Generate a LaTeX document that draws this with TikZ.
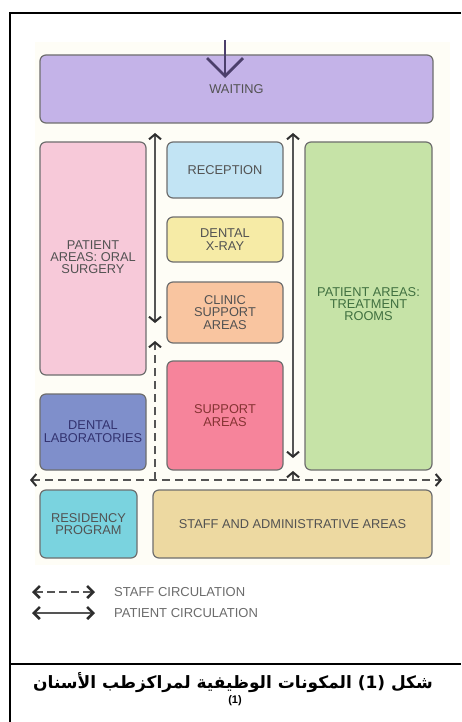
\documentclass[tikz,border=0pt]{standalone}
\usepackage{fontspec}
\setmainfont{Liberation Sans}
\newfontfamily\arabicfont[Script=Arabic]{DejaVu Sans}
\TeXXeTstate=1
\usetikzlibrary{arrows.meta}
\definecolor{bordergray}{HTML}{6E6E6E}
\definecolor{linegray}{HTML}{555555}
\definecolor{tipdark}{HTML}{2E2E2E}
\definecolor{cwait}{HTML}{C4B3E8}
\definecolor{coral}{HTML}{F7C9D9}
\definecolor{crecep}{HTML}{C2E4F4}
\definecolor{cxray}{HTML}{F6EBA6}
\definecolor{cclinic}{HTML}{F9C5A0}
\definecolor{csupport}{HTML}{F6849B}
\definecolor{cgreen}{HTML}{C6E3A7}
\definecolor{clabs}{HTML}{7F8FCB}
\definecolor{cres}{HTML}{7AD3DF}
\definecolor{cstaff}{HTML}{EDD9A1}
\definecolor{cbg}{HTML}{FEFDF6}
\definecolor{centry}{HTML}{4B3F6B}
\tikzset{
  box/.style={draw=bordergray, line width=1.2pt, rounded corners=6pt, align=center,
    inner sep=0pt, font=\fontsize{12.8}{12.8}\selectfont, text=black!68},
  patientline/.style={draw=linegray, line width=1.5pt, {Straight Barb[length=5pt,width=12pt,line width=2pt,color=tipdark]}-{Straight Barb[length=5pt,width=12pt,line width=2pt,color=tipdark]}},
  staffline/.style={draw=linegray, line width=1.6pt, dash pattern=on 8pt off 5pt},
  legendtxt/.style={anchor=west, inner sep=0pt, font=\fontsize{13}{13}\selectfont, text=black!58},
  frameline/.style={line width=2pt, draw=black}
}
\begin{document}
\begin{tikzpicture}[x=1pt,y=-1pt]
\useasboundingbox (0,0) rectangle (461,722);
% frame
\draw[frameline] (461,13) -- (10,13) -- (10,722);
\draw[frameline] (10,664) -- (461,664);
% background
\fill[cbg] (35,42) rectangle (450,565);
% boxes
\node[box, fill=cwait, minimum width=393pt, minimum height=68pt] (waiting) at (236.5,89) {\raisebox{-3pt}{WAITING}};
\node[box, fill=coral, minimum width=106pt, minimum height=233pt] (oral) at (93,258.5) {\raisebox{2pt}{\shortstack{PATIENT\\AREAS: ORAL\\SURGERY}}};
\node[box, fill=crecep, minimum width=116pt, minimum height=56pt] (recep) at (225,170) {RECEPTION};
\node[box, fill=cxray, minimum width=116pt, minimum height=45pt] (xray) at (225,239.5) {DENTAL\\X-RAY};
\node[box, fill=cclinic, minimum width=116pt, minimum height=61pt] (clinic) at (225,312.5) {CLINIC\\SUPPORT\\AREAS};
\node[box, fill=csupport, minimum width=116pt, minimum height=109pt, text=red!40!black!80] (support) at (225,415.5) {SUPPORT\\AREAS};
\node[box, fill=cgreen, minimum width=127pt, minimum height=328pt, text=green!25!black!75] (treat) at (368.5,306) {\raisebox{4pt}{\shortstack{PATIENT AREAS:\\TREATMENT\\ROOMS}}};
\node[box, fill=clabs, minimum width=106pt, minimum height=76pt, text=blue!30!black!80] (labs) at (93,432) {DENTAL\\LABORATORIES};
\node[box, fill=cres, minimum width=97pt, minimum height=68pt] (res) at (88.5,524) {RESIDENCY\\PROGRAM};
\node[box, fill=cstaff, minimum width=279pt, minimum height=68pt] (staff) at (292.5,524) {STAFF AND ADMINISTRATIVE AREAS};
% entry arrow
\coordinate (entryTop) at (225,40);
\coordinate (entryTip) at (225,78);
\draw[draw=centry, line width=1.6pt, -{Straight Barb[length=18pt,width=36pt,line width=2.8pt]}] (entryTop) -- (entryTip);
% patient circulation
\coordinate (pA1) at (155,133);
\coordinate (pA2) at (155,323);
\coordinate (pB1) at (293,133);
\coordinate (pB2) at (293,458);
\draw[patientline] (pA1) -- (pA2);
\draw[patientline] (pB1) -- (pB2);
% staff circulation
\coordinate (sL) at (30,480);
\coordinate (sR) at (442,480);
\coordinate (sCorner) at (155,480);
\coordinate (sUp) at (155,341);
\coordinate (sB) at (293,480);
\coordinate (sBup) at (293,471);
\draw[staffline, {Straight Barb[length=5pt,width=12pt,line width=2pt,color=tipdark]}-{Straight Barb[length=5pt,width=12pt,line width=2pt,color=tipdark]}] (sL) -- (sR);
\draw[staffline, -{Straight Barb[length=5pt,width=12pt,line width=2pt,color=tipdark]}] (sCorner) -- (sUp);
\draw[draw=linegray, line width=1.5pt, -{Straight Barb[length=5pt,width=12pt,line width=2pt,color=tipdark]}] (sB) -- (sBup);
% legend
\coordinate (lsA) at (32,592);
\coordinate (lsB) at (95,592);
\coordinate (lpA) at (32,613);
\coordinate (lpB) at (95,613);
\draw[draw=linegray, line width=1.4pt, dash pattern=on 8pt off 4pt, {Straight Barb[length=6pt,width=12pt,line width=2.6pt,color=tipdark]}-{Straight Barb[length=6pt,width=12pt,line width=2.6pt,color=tipdark]}] (lsA) -- (lsB);
\draw[draw=linegray, line width=1.4pt, {Straight Barb[length=6pt,width=12pt,line width=2.6pt,color=tipdark]}-{Straight Barb[length=6pt,width=12pt,line width=2.6pt,color=tipdark]}] (lpA) -- (lpB);
\node[legendtxt] (lstext) at (114,592) {STAFF CIRCULATION};
\node[legendtxt] (lptext) at (114,613) {PATIENT CIRCULATION};
% caption
\node[inner sep=0pt, font=\fontsize{17}{18}\selectfont\bfseries] (cap) at (233,683) {\arabicfont\beginR شكل \beginL(1)\endL{} المكونات الوظيفية لمراكزطب الأسنان\endR};
\node[inner sep=0pt, font=\fontsize{11}{12}\selectfont\bfseries] (capnum) at (235,701) {(1)};
\end{tikzpicture}
\end{document}
